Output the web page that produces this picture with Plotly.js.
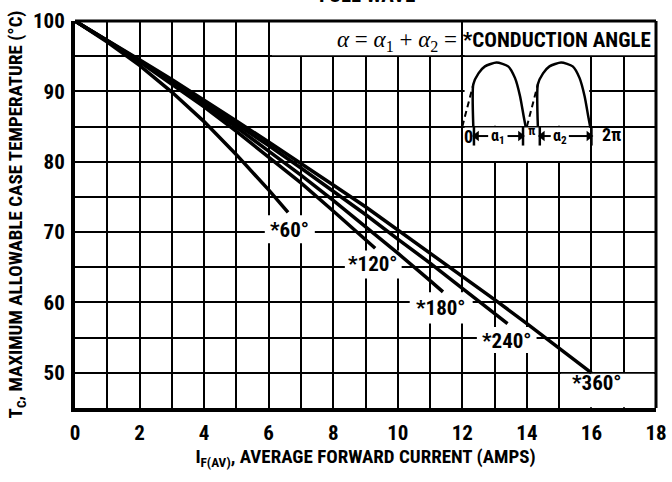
<!DOCTYPE html>
<html>
<head>
<meta charset="utf-8">
<script src="https://cdn.plot.ly/plotly-3.0.1.min.js"></script>
<style>
html,body{margin:0;padding:0;background:#fff;}
.main-svg text{font-stretch:condensed;}
</style>
</head>
<body>
<div id="chart" style="width:672px;height:482px;"></div>
<script>
// ---- Data (I_F(AV) in A, T_C in °C) ----
const angleLabels = ["*60°", "*120°", "*180°", "*240°", "*360°"];

const current60  = [0, 1, 2, 3, 4, 5, 6, 6.6];
const temp60     = [100, 97.0, 93.7, 89.9, 85.7, 81.0, 76.0, 72.8];

const current120 = [0, 1, 2, 3, 4, 5, 6, 7, 8, 9, 9.3];
const temp120    = [100, 97.2, 94.2, 91.0, 87.8, 84.3, 80.7, 77.0, 73.0, 69.0, 67.7];

const current180 = [0, 1, 2, 3, 4, 5, 6, 7, 8, 9, 10, 11, 11.4];
const temp180    = [100, 97.2, 94.3, 91.3, 88.1, 84.9, 81.5, 78.1, 74.5, 70.8, 67.0, 63.1, 61.5];

const current240 = [0, 1, 2, 3, 4, 5, 6, 7, 8, 9, 10, 11, 12, 13, 13.4];
const temp240    = [100, 97.2, 94.4, 91.4, 88.4, 85.4, 82.3, 79.1, 75.8, 72.5, 69.0, 65.6, 62.0, 58.4, 57.0];

const current360 = [0, 1, 2, 3, 4, 5, 6, 7, 8, 9, 10, 11, 12, 13, 14, 15, 16];
const temp360    = [100, 97.3, 94.5, 91.7, 88.8, 85.8, 82.8, 79.8, 76.7, 73.6, 70.3, 67.1, 63.8, 60.4, 57.0, 53.5, 50.0];

const xTickVals = [0, 2, 4, 6, 8, 10, 12, 14, 16, 18];
const yTickVals = [50, 60, 70, 80, 90, 100];

// inset waveform shape (offset along a half cycle / relative height)
const waveDx = [0, 0.14, 0.24, 0.34, 0.50, 0.70, 1.06, 1.42, 1.63, 1.79, 1.90, 1.96];
const waveH  = [0, 0.29, 0.49, 0.66, 0.83, 0.94, 1.00, 0.94, 0.76, 0.47, 0.16, 0];
const FIRE_INDEX = 3;
const humpStarts = [12.0, 14.0];
const WAVE_BASE = 85, WAVE_AMP = 9.1;

// ---- Styling ----
const FONT = "'Liberation Sans Narrow', 'Roboto Condensed', 'Noto Sans', 'Liberation Sans', sans-serif";
const f = (size) => ({family: FONT, size: size, color: '#000', weight: 700});

const curves = [
  [current60, temp60], [current120, temp120], [current180, temp180],
  [current240, temp240], [current360, temp360]
];

const traces = curves.map(([x, y], i) => ({
  type: 'scatter', mode: 'lines', x: x, y: y, name: angleLabels[i],
  line: {color: '#000', width: 3.5}, showlegend: false, hoverinfo: 'skip'
}));

// inset humps
humpStarts.forEach(s => {
  const dx = waveDx.slice(0, FIRE_INDEX + 1).map(d => s + d);
  const dy = waveH.slice(0, FIRE_INDEX + 1).map(h => WAVE_BASE + WAVE_AMP * h);
  traces.push({type: 'scatter', mode: 'lines', x: dx, y: dy,
    line: {color: '#000', width: 2, dash: '6px,4px'}, showlegend: false, hoverinfo: 'skip'});
  const sx = [s + waveDx[FIRE_INDEX]].concat(waveDx.slice(FIRE_INDEX).map(d => s + d));
  const sy = [WAVE_BASE].concat(waveH.slice(FIRE_INDEX).map(h => WAVE_BASE + WAVE_AMP * h));
  traces.push({type: 'scatter', mode: 'lines', x: sx, y: sy,
    line: {color: '#000', width: 2.5, shape: 'spline', smoothing: 0.6}, showlegend: false, hoverinfo: 'skip'});
});
// bars under the inset baseline
const barX = [12.36, 13.88, 14.40, 16.0];
const bx = [], by = [];
barX.forEach(b => { bx.push(b, b, null); by.push(85, 82.3, null); });
traces.push({type: 'scatter', mode: 'lines', x: bx, y: by,
  line: {color: '#000', width: 2.5}, showlegend: false, hoverinfo: 'skip'});
// arrows (shaft + head) for alpha1 / alpha2 spans
const ARROW_Y = 83.65;
const arrowPairs = [[12.80, 12.44], [13.40, 13.80], [14.74, 14.48], [15.30, 15.92]];
const ax = [], ay = [];
arrowPairs.forEach(p => { ax.push(p[0], p[1], null); ay.push(ARROW_Y, ARROW_Y, null); });
traces.push({type: 'scatter', mode: 'lines', x: ax, y: ay,
  line: {color: '#000', width: 2}, showlegend: false, hoverinfo: 'skip'});
traces.push({type: 'scatter', mode: 'markers',
  x: arrowPairs.map(p => p[1]), y: arrowPairs.map(() => ARROW_Y),
  marker: {color: '#000', size: 9,
    symbol: arrowPairs.map(p => p[1] < p[0] ? 'triangle-left' : 'triangle-right')},
  showlegend: false, hoverinfo: 'skip'});

// ---- Masks (white boxes breaking the grid) ----
const mask = (x0, x1, y0, y1) => ({type: 'rect', xref: 'x', yref: 'y', x0, x1, y0, y1,
  fillcolor: '#fff', line: {width: 0}, layer: 'between'});
const shapes = [
  mask(6.1, 11.93, 95.15, 99.85), mask(12.07, 17.94, 95.15, 99.85),
  mask(12.07, 15.93, 85.12, 94.88), mask(12.07, 15.93, 80.12, 84.88),
  mask(5.88, 7.43, 68.4, 72.4),
  mask(8.36, 10.12, 63.4, 67.4),
  mask(10.37, 12.32, 57.0, 61.45),
  mask(12.45, 14.3, 52.8, 56.5),
  mask(15.05, 17.94, 45.1, 49.88),
  // top and right frame
  {type: 'line', xref: 'paper', yref: 'paper', x0: 0, x1: 1, y0: 1, y1: 1, line: {color: '#000', width: 3}, layer: 'above'},
  {type: 'line', xref: 'paper', yref: 'paper', x0: 1, x1: 1, y0: 0, y1: 1, line: {color: '#000', width: 3}, layer: 'above'}
];

const ann = (x, y, text, size) => ({x, y, xref: 'x', yref: 'y', text, showarrow: false, font: f(size)});
const labelPos = [[6.63, 70.3], [9.23, 65.4], [11.33, 59.2], [13.37, 54.5], [16.16, 48.5]];
const annotations = labelPos.map((p, i) => ann(p[0], p[1], angleLabels[i], 21));

annotations.push({
  xref: 'paper', yref: 'paper', x: 0.5026, y: 1.032, xanchor: 'center', yanchor: 'bottom',
  text: 'FULL WAVE', showarrow: false, font: f(21)
});
annotations.push({
  x: 17.9, y: 97.2, xref: 'x', yref: 'y', xanchor: 'right', yanchor: 'middle', showarrow: false,
  text: '<span style="font-family:Liberation Serif;font-weight:normal;font-size:23px"><i>α</i> = <i>α</i><sub>1</sub> + <i>α</i><sub>2</sub> = </span>*CONDUCTION ANGLE',
  font: f(21)
});
annotations.push(ann(12.2, 83.6, '0', 18));
annotations.push(ann(14.15, 84.4, 'π', 13));
annotations.push(ann(16.62, 83.8, '2π', 18));
annotations.push(ann(13.1, 83.6, 'α<sub>1</sub>', 16));
annotations.push(ann(15.02, 83.6, 'α<sub>2</sub>', 16));

const layout = {
  width: 672, height: 482,
  margin: {l: 75, r: 16, t: 21, b: 74},
  paper_bgcolor: '#fff', plot_bgcolor: '#fff',
  showlegend: false,
  font: f(21),
  xaxis: {
    range: [0, 18], tickvals: xTickVals, ticktext: xTickVals.map(String),
    showgrid: true, gridcolor: '#000', gridwidth: 2,
    minor: {dtick: 1, tick0: 0, showgrid: true, gridcolor: '#000', gridwidth: 2, ticks: ''},
    zeroline: false, showline: true, linecolor: '#000', linewidth: 4, mirror: false,
    ticks: 'outside', ticklen: 3, tickcolor: 'rgba(0,0,0,0)', tickfont: f(21),
    title: {text: 'I<sub>F(AV)</sub>, AVERAGE FORWARD CURRENT (AMPS)', font: f(19), standoff: 0},
    fixedrange: true
  },
  yaxis: {
    range: [45, 100], tickvals: yTickVals, ticktext: yTickVals.map(String),
    showgrid: true, gridcolor: '#000', gridwidth: 2,
    minor: {dtick: 5, tick0: 0, showgrid: true, gridcolor: '#000', gridwidth: 2, ticks: ''},
    zeroline: false, showline: true, linecolor: '#000', linewidth: 4, mirror: false,
    ticks: 'outside', ticklen: 2, tickcolor: 'rgba(0,0,0,0)', tickfont: f(21),
    title: {text: 'T<sub>C</sub>, MAXIMUM ALLOWABLE CASE TEMPERATURE (°C)', font: f(19), standoff: 6},
    fixedrange: true
  },
  shapes: shapes,
  annotations: annotations
};

Plotly.newPlot('chart', traces, layout, {displayModeBar: false, staticPlot: true});
</script>
</body>
</html>
